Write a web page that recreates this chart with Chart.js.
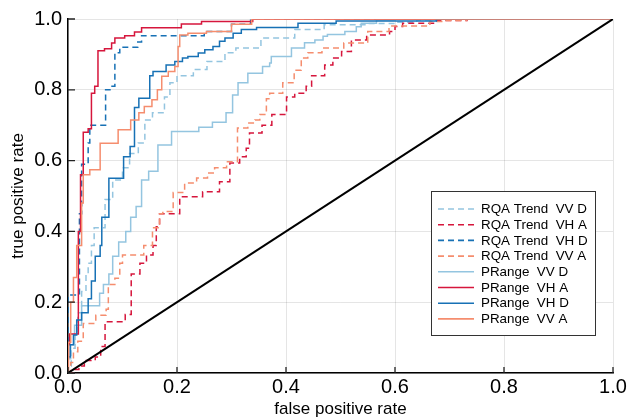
<!DOCTYPE html>
<html>
<head>
<meta charset="utf-8">
<title>ROC</title>
<script src="https://cdn.jsdelivr.net/npm/chart.js@4.4.1/dist/chart.umd.min.js"></script>
<style>
  html, body { margin: 0; padding: 0; background: #fff; }
</style>
</head>
<body>
<canvas id="roc" width="629" height="420"></canvas>
<script>
// --- ROC CURVES: false positive rate vs true positive rate ---
// each pair reads as: at fpr[i] the curve steps up to tpr[i]

var seriesLabels = [
    'RQA Trend  VV D', 'RQA Trend  VH A', 'RQA Trend  VH D', 'RQA Trend  VV A',
    'PRange  VV D', 'PRange  VH A', 'PRange  VH D', 'PRange  VV A'
];

var rqaVVD_fpr = [0, 0, 0.006, 0.013, 0.018, 0.025, 0.033, 0.037, 0.043, 0.048, 0.068, 0.082, 0.1, 0.113, 0.129, 0.141, 0.155, 0.177, 0.187, 0.2, 0.23, 0.255, 0.288, 0.308, 0.354, 0.416, 0.47, 0.55, 0.6, 0.64, 0.7, 1];
var rqaVVD_tpr = [0, 0.02, 0.07, 0.11, 0.17, 0.23, 0.28, 0.31, 0.36, 0.41, 0.49, 0.545, 0.58, 0.62, 0.65, 0.715, 0.735, 0.78, 0.82, 0.84, 0.857, 0.88, 0.905, 0.918, 0.946, 0.97, 0.984, 0.987, 0.991, 0.997, 1, 1];

var rqaVHA_fpr = [0, 0.01, 0.02, 0.03, 0.05, 0.06, 0.068, 0.105, 0.116, 0.132, 0.144, 0.156, 0.162, 0.168, 0.205, 0.247, 0.278, 0.297, 0.315, 0.327, 0.333, 0.356, 0.374, 0.401, 0.416, 0.437, 0.447, 0.471, 0.486, 0.502, 0.52, 0.548, 0.59, 0.6, 0.614, 0.677, 0.732, 1];
var rqaVHA_tpr = [0, 0.01, 0.02, 0.035, 0.045, 0.075, 0.145, 0.165, 0.28, 0.31, 0.333, 0.36, 0.413, 0.45, 0.498, 0.512, 0.54, 0.593, 0.611, 0.635, 0.678, 0.7, 0.73, 0.78, 0.79, 0.81, 0.84, 0.87, 0.89, 0.908, 0.941, 0.955, 0.965, 0.979, 0.988, 0.996, 1, 1];

var rqaVHD_fpr = [0, 0, 0.021, 0.025, 0.037, 0.04, 0.069, 0.077, 0.086, 0.095, 0.128, 0.135, 0.25, 0.3, 0.335, 1];
var rqaVHD_tpr = [0, 0.22, 0.45, 0.59, 0.65, 0.7, 0.8, 0.81, 0.905, 0.92, 0.935, 0.953, 0.965, 0.985, 1, 1];

var rqaVVA_fpr = [0, 0.005, 0.01, 0.018, 0.028, 0.051, 0.07, 0.074, 0.086, 0.095, 0.1, 0.139, 0.155, 0.168, 0.174, 0.193, 0.214, 0.236, 0.256, 0.269, 0.291, 0.311, 0.33, 0.343, 0.352, 0.364, 0.37, 0.394, 0.415, 0.428, 0.44, 0.466, 0.506, 0.55, 0.589, 0.664, 0.691, 0.731, 1];
var rqaVVA_tpr = [0, 0.03, 0.06, 0.09, 0.14, 0.163, 0.18, 0.25, 0.268, 0.31, 0.333, 0.36, 0.41, 0.45, 0.456, 0.51, 0.537, 0.551, 0.565, 0.58, 0.597, 0.692, 0.706, 0.715, 0.73, 0.775, 0.79, 0.82, 0.855, 0.89, 0.905, 0.918, 0.932, 0.965, 0.98, 0.993, 0.996, 1, 1];

var prVVD_fpr = [0, 0, 0.005, 0.012, 0.025, 0.058, 0.065, 0.075, 0.082, 0.093, 0.106, 0.115, 0.125, 0.135, 0.148, 0.165, 0.19, 0.24, 0.265, 0.29, 0.302, 0.312, 0.33, 0.357, 0.37, 0.373, 0.41, 0.434, 0.453, 0.468, 0.476, 0.508, 0.529, 0.538, 0.566, 0.6, 1];
var prVVD_tpr = [0, 0.04, 0.08, 0.135, 0.19, 0.225, 0.25, 0.28, 0.33, 0.37, 0.4, 0.44, 0.47, 0.545, 0.57, 0.644, 0.682, 0.694, 0.708, 0.735, 0.785, 0.82, 0.847, 0.866, 0.876, 0.894, 0.918, 0.933, 0.941, 0.951, 0.956, 0.965, 0.978, 0.988, 0.997, 1, 1];

var prVHA_fpr = [0, 0, 0.003, 0.019, 0.023, 0.028, 0.037, 0.043, 0.049, 0.055, 0.067, 0.08, 0.086, 0.104, 0.122, 0.135, 0.208, 0.245, 0.339, 1];
var prVHA_tpr = [0, 0.08, 0.11, 0.4, 0.56, 0.68, 0.69, 0.79, 0.81, 0.91, 0.916, 0.932, 0.946, 0.953, 0.963, 0.975, 0.986, 0.993, 1, 1];

var prVHD_fpr = [0, 0, 0.004, 0.01, 0.016, 0.025, 0.037, 0.043, 0.05, 0.059, 0.062, 0.075, 0.102, 0.114, 0.122, 0.13, 0.15, 0.156, 0.18, 0.196, 0.21, 0.22, 0.239, 0.251, 0.266, 0.278, 0.288, 0.303, 0.318, 0.346, 0.422, 0.492, 0.676, 1];
var prVHD_tpr = [0, 0.045, 0.08, 0.107, 0.15, 0.17, 0.21, 0.26, 0.33, 0.36, 0.44, 0.55, 0.611, 0.64, 0.75, 0.776, 0.84, 0.852, 0.87, 0.88, 0.89, 0.894, 0.904, 0.913, 0.922, 0.937, 0.946, 0.96, 0.97, 0.976, 0.988, 0.994, 1, 1];

var prVVA_fpr = [0, 0.001, 0.005, 0.01, 0.016, 0.025, 0.028, 0.04, 0.059, 0.092, 0.115, 0.13, 0.14, 0.154, 0.164, 0.172, 0.184, 0.196, 0.202, 0.205, 0.22, 0.254, 0.3, 0.337, 1];
var prVVA_tpr = [0, 0.087, 0.2, 0.27, 0.36, 0.48, 0.56, 0.574, 0.649, 0.687, 0.715, 0.735, 0.753, 0.772, 0.8, 0.838, 0.852, 0.866, 0.922, 0.955, 0.96, 0.965, 0.985, 1, 1];

// chance line
var chance_fpr = [0, 1];
var chance_tpr = [0, 1];

var tickValues = [0, 0.2, 0.4, 0.6, 0.8, 1.0];

var semuaFpr = [rqaVVD_fpr, rqaVHA_fpr, rqaVHD_fpr, rqaVVA_fpr, prVVD_fpr, prVHA_fpr, prVHD_fpr, prVVA_fpr];
var semuaTpr = [rqaVVD_tpr, rqaVHA_tpr, rqaVHD_tpr, rqaVVA_tpr, prVVD_tpr, prVHA_tpr, prVHD_tpr, prVVA_tpr];

// --- STYLE ---
var warnaGaris = ['#94c5e0', '#d6163c', '#1771b5', '#f58d6e', '#94c5e0', '#d6163c', '#1771b5', '#f58d6e'];
var polaGaris = [[6, 4], [6, 4], [6, 4], [6, 4], [], [], [], []];

Chart.defaults.font.family = '"Liberation Sans", Arial, Helvetica, sans-serif';
Chart.defaults.color = '#000';

function keTitik(xs, ys) {
    return xs.map(function(x, j) { return { x: x, y: ys[j] }; });
}

var datasets = seriesLabels.map(function(lab, i) {
    return {
        label: lab,
        data: keTitik(semuaFpr[i], semuaTpr[i]),
        borderColor: warnaGaris[i],
        borderWidth: 1.5,
        borderDash: polaGaris[i],
        stepped: 'before',
        pointRadius: 0,
        fill: false,
        // later entries are drawn on top
        order: seriesLabels.length - i
    };
});
datasets.push({
    label: '',
    data: keTitik(chance_fpr, chance_tpr),
    borderColor: '#000',
    borderWidth: 2,
    pointRadius: 0,
    fill: false,
    order: 0
});

// --- inward tick marks on both axes ---
var tandaTick = {
    id: 'tandaTick',
    afterDatasetsDraw: function(chart) {
        var ctx = chart.ctx, ca = chart.chartArea;
        var sx = chart.scales.x, sy = chart.scales.y;
        ctx.save();
        ctx.strokeStyle = '#222';
        ctx.lineWidth = 1.3;
        ctx.beginPath();
        tickValues.forEach(function(v) {
            var px = sx.getPixelForValue(v);
            ctx.moveTo(px, ca.bottom);
            ctx.lineTo(px, ca.bottom - 6);
            var py = sy.getPixelForValue(v);
            ctx.moveTo(ca.left, py);
            ctx.lineTo(ca.left + 7, py);
        });
        ctx.stroke();
        ctx.restore();
    }
};

// --- boxed legend inside the plot ---
var legendaKotak = {
    id: 'legendaKotak',
    afterDraw: function(chart, args, opts) {
        var ctx = chart.ctx;
        var item = chart.data.datasets.filter(function(d) { return d.label; });
        ctx.save();
        ctx.fillStyle = '#fff';
        ctx.fillRect(opts.x, opts.y, opts.w, opts.h);
        ctx.strokeStyle = '#333';
        ctx.lineWidth = 1;
        ctx.strokeRect(opts.x + 0.5, opts.y + 0.5, opts.w, opts.h);

        ctx.font = opts.fontSize + 'px "Liberation Sans", Arial, sans-serif';
        ctx.textBaseline = 'middle';
        ctx.textAlign = 'left';
        item.forEach(function(d, i) {
            var yy = opts.y + opts.firstRow + i * opts.rowGap;
            ctx.strokeStyle = d.borderColor;
            ctx.lineWidth = 1.6;
            ctx.setLineDash(d.borderDash || []);
            ctx.beginPath();
            ctx.moveTo(opts.x + 7, yy);
            ctx.lineTo(opts.x + 43, yy);
            ctx.stroke();
            ctx.setLineDash([]);
            ctx.fillStyle = '#000';
            ctx.fillText(d.label, opts.x + 50, yy + 0.5);
        });
        ctx.restore();
    }
};

function formatTick(v) { return Number(v).toFixed(1); }

var ctx = document.getElementById('roc').getContext('2d');
var chartRoc = new Chart(ctx, {
    type: 'line',
    data: { datasets: datasets },
    options: {
        responsive: false,
        animation: false,
        events: [],
        layout: { padding: { top: 19, right: 16, left: 0, bottom: 0 } },
        scales: {
            x: {
                type: 'linear',
                min: 0,
                max: 1,
                afterBuildTicks: function(s) { s.ticks = tickValues.map(function(v) { return { value: v }; }); },
                afterFit: function(s) { s.height = 47; },
                ticks: { font: { size: 20 }, color: '#000', padding: 2, maxRotation: 0, autoSkip: false, callback: formatTick },
                grid: { color: 'rgba(0,0,0,0.1)', lineWidth: 1, drawTicks: false },
                border: { color: '#000', width: 1.5 },
                title: { display: true, text: 'false positive rate', font: { size: 17 }, color: '#000', padding: { top: 0, bottom: 0 } }
            },
            y: {
                type: 'linear',
                min: 0,
                max: 1,
                afterBuildTicks: function(s) { s.ticks = tickValues.map(function(v) { return { value: v }; }); },
                afterFit: function(s) { s.width = 68; },
                ticks: { font: { size: 20 }, color: '#000', padding: 6, autoSkip: false, callback: formatTick },
                grid: { color: 'rgba(0,0,0,0.1)', lineWidth: 1, drawTicks: false },
                border: { color: '#000', width: 1.5 },
                title: { display: true, text: 'true positive rate', font: { size: 17 }, color: '#000', padding: { top: 8, bottom: 0 } }
            }
        },
        plugins: {
            legend: { display: false },
            tooltip: { enabled: false },
            legendaKotak: { x: 431, y: 191, w: 164, h: 144, firstRow: 18, rowGap: 15.7, fontSize: 13.4 }
        }
    },
    plugins: [tandaTick, legendaKotak]
});
</script>
</body>
</html>
